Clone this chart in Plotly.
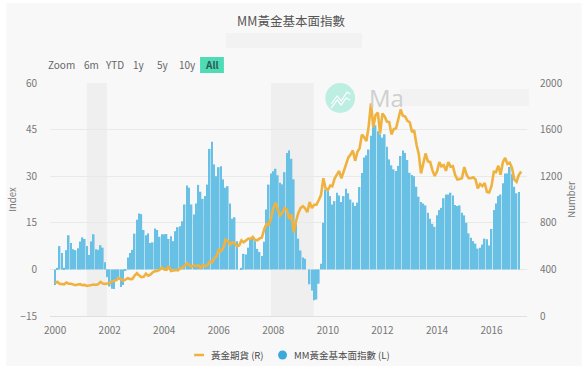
import pandas as pd
import plotly.graph_objects as go

W, H = 587, 377
L, R, T, B = 48, 528, 83, 316

index_values = [
    -5, .5, 7.5, 5.3, .5, 6.2, 11, 8.5, 6.5, 6.2, 6.8, 9,
    10.3, 9.8, 7.5, 4.6, 9, 11.3, 6.5, 6.3, 7.8, 7, 2.3, -2.5,
    -5.5, -6.2, -6.3, -3.5, -2.5, -5.7, -5, -0.5, 3.8, 5.3, 6.3, 11.5,
    16, 18, 17.8, 12.7, 11, 11.6, 8.5, 8.7, 13.2, 12.7, 10.5, 11.3,
    11.3, 11.4, 9.8, 10.7, 9.1, 12.3, 13.6, 13.9, 15.5, 20.9, 27, 26.3,
    20.9, 17.7, 21.2, 27.2, 25, 22.7, 23.6, 27.3, 38.8, 41.1, 33.8, 30,
    32.9, 33.2, 29, 26.3, 26.8, 21.2, 16.3, 16.8, 9.1, 0, 0.5, 5,
    4.8, 7, 9.6, 9.9, 9.1, 6.6, 5.6, 4.3, 8.9, 19.3, 27.3, 30.9,
    31.6, 32.4, 30.3, 27.9, 27.4, 31.3, 37.5, 38.3, 35.6, 29, 14.5, 9.9,
    6.1, 3.8, 3.4, 0, -4.8, -6.8, -9.9, -9.7, -4.6, 1.8, 15, 25.7,
    25.2, 23.6, 20.9, 22, 24.7, 23.8, 21.7, 23.6, 26, 24.5, 22.5, 21.5,
    20.4, 21.5, 26.5, 31, 36, 36.7, 38.6, 43, 45.8, 46.4, 44.5, 43.5,
    42.4, 43.5, 39.5, 35.4, 33.5, 32.2, 31.7, 33.3, 36.5, 38.3, 37.5, 35.2,
    31.1, 30.4, 30, 26.6, 23.4, 21.7, 21.2, 20.6, 18.2, 16.3, 14.7, 13.7,
    17.4, 19.1, 19.8, 22.9, 24.1, 24.1, 24.7, 23.8, 20.7, 20.4, 20.6, 18.2,
    17.4, 15, 11.6, 10.2, 9.1, 8.3, 6.7, 7, 8, 9.9, 9.7, 7.7,
    13, 19.1, 21.2, 23.6, 24.1, 27.7, 30.9, 30.9, 33, 30.6, 26.6, 24.5,
    24.9,
]
gold_values = [
    283, 293, 277, 275, 272, 288, 277, 277, 273, 264, 270, 273,
    265, 267, 258, 264, 266, 270, 266, 273, 293, 279, 275, 277,
    283, 296, 301, 308, 326, 318, 305, 312, 324, 317, 318, 347,
    368, 347, 334, 336, 364, 346, 354, 375, 385, 386, 397, 416,
    399, 396, 427, 387, 394, 395, 391, 408, 415, 429, 453, 438,
    422, 434, 428, 435, 414, 437, 430, 433, 467, 459, 495, 513,
    569, 557, 582, 654, 643, 613, 632, 624, 599, 606, 649, 632,
    650, 665, 662, 679, 654, 650, 666, 673, 743, 790, 783, 838,
    924, 972, 916, 864, 886, 926, 914, 833, 873, 719, 816, 884,
    928, 942, 924, 891, 979, 927, 955, 955, 996, 1040, 1182, 1097,
    1081, 1119, 1113, 1180, 1213, 1244, 1181, 1248, 1307, 1359, 1386, 1421,
    1332, 1409, 1439, 1556, 1536, 1502, 1628, 1825, 1620, 1725, 1746, 1566,
    1739, 1711, 1669, 1664, 1559, 1604, 1610, 1691, 1773, 1719, 1712, 1675,
    1663, 1578, 1595, 1472, 1393, 1224, 1312, 1395, 1327, 1323, 1250, 1202,
    1240, 1321, 1284, 1295, 1246, 1322, 1282, 1287, 1210, 1172, 1175, 1184,
    1279, 1213, 1183, 1183, 1190, 1172, 1095, 1132, 1115, 1142, 1065, 1060,
    1116, 1238, 1234, 1290, 1213, 1320, 1357, 1306, 1316, 1272, 1171, 1152,
    1211, 1240,
]
recessions = [("2001-03-01", "2001-11-25"), ("2007-12-01", "2009-06-25")]
range_buttons = ["Zoom", "6m", "YTD", "1y", "5y", "10y", "All"]
title_text = "MM黃金基本面指數"
gold_name = "黃金期貨 (R)"
index_name = "MM黃金基本面指數 (L)"

FONT = "Noto Sans CJK TC"
GOLD = "#f0b23f"
index_dates = pd.date_range("2000-01-01", periods=len(index_values), freq="MS")
gold_dates = pd.date_range("2000-01-01", periods=len(gold_values), freq="MS")

def px(x):
    return (x - L) / (R - L)
def py(y):
    return (B - y) / (B - T)

fig = go.Figure()
fig.add_trace(go.Bar(x=index_dates, y=index_values, name=index_name,
                     marker=dict(color="#69c0e5", line=dict(width=0)), yaxis="y"))
fig.add_trace(go.Scatter(x=gold_dates, y=gold_values, name=gold_name, mode="lines",
                         line=dict(color=GOLD, width=2.6), yaxis="y2"))

def paper_rect(x0, x1, y0, y1, color, layer="below", kind="rect"):
    return dict(type=kind, xref="paper", yref="paper", x0=px(x0), x1=px(x1), y0=py(y1), y1=py(y0),
                fillcolor=color, line_width=0, layer=layer)

shapes = [
    paper_rect(4, 583, 3, 366, "#f8f8f8"),
    paper_rect(225, 362, 33, 48, "#f2f2f2"),
    paper_rect(199, 223, 57, 73, "#4edcb6"),
]
for a, b in recessions:
    shapes.append(dict(type="rect", xref="x", yref="paper", x0=a, x1=b, y0=0, y1=1,
                       fillcolor="#efefef", line_width=0, layer="below"))
# watermark logo and masked box
shapes.append(paper_rect(325, 355, 83, 113, "#bdeee2", kind="circle"))
for p in ([(331, 104), (337, 96), (341, 101), (347, 92), (350, 94)],
          [(331, 108), (337, 100), (341, 105), (346, 98), (350, 100)]):
    d = "M" + " L".join(f"{px(x):.4f},{py(y):.4f}" for x, y in p)
    shapes.append(dict(type="path", xref="paper", yref="paper", path=d,
                       line=dict(color="#ffffff", width=1.2), layer="below"))
shapes.append(paper_rect(400, 530, 89, 106, "#f2f2f2", layer="below"))
# legend keys
shapes.append(dict(type="line", xref="paper", yref="paper", x0=px(193), x1=px(203), y0=py(355), y1=py(355),
                   line=dict(color=GOLD, width=2.5)))
shapes.append(paper_rect(277.5, 286.5, 350.5, 359.5, "#3aa9dc", kind="circle"))

button_x = [60, 90, 113, 138, 162, 186, 211]
ann = []
for t, x in zip(range_buttons, button_x):
    ann.append(dict(text=f"<b>{t}</b>" if t == "All" else t, xref="paper", yref="paper",
                    x=px(x), y=py(64.5), xanchor="center", yanchor="middle", showarrow=False,
                    font=dict(size=10, color="#2f5a50" if t == "All" else "#666666", family=FONT)))
ann.append(dict(text="Ma", xref="paper", yref="paper", x=px(367), y=py(97), xanchor="left", yanchor="middle",
                showarrow=False, font=dict(size=24, color="#cfcfcf", family="Open Sans")))
for t, x in ((gold_name, 208), (index_name, 292)):
    ann.append(dict(text=t, xref="paper", yref="paper", x=px(x), y=py(355), xanchor="left", yanchor="middle",
                    showarrow=False, font=dict(size=9.5, color="#4a4a4a", family=FONT)))

fig.update_layout(
    width=W, height=H, autosize=False, showlegend=False,
    margin=dict(l=L, r=W - R, t=T, b=H - B),
    paper_bgcolor="#ffffff", plot_bgcolor="rgba(0,0,0,0)",
    font=dict(family=FONT, color="#777777", size=10),
    title=dict(text=title_text, x=291 / W, xanchor="center", y=1 - 22 / H, yanchor="middle",
               font=dict(size=12.5, color="#555555", family=FONT)),
    bargap=0.22, shapes=shapes, annotations=ann,
    xaxis=dict(type="date", range=["1999-10-25", "2017-04-20"], tick0="2000-01-01", dtick="M24",
               tickformat="%Y", showgrid=False, showline=True, linecolor="#e0e0e0", linewidth=1,
               ticks="", ticklabelstandoff=5, tickfont=dict(size=10, color="#777777")),
    yaxis=dict(range=[-15, 60], tick0=-15, dtick=15, gridcolor="#e9e9e9", gridwidth=1, zeroline=True,
               zerolinecolor="#e9e9e9", zerolinewidth=1, showline=False, ticks="", ticklabelstandoff=12,
               tickfont=dict(size=10, color="#777777"),
               title=dict(text="Index", standoff=2, font=dict(size=9.5, color="#777777"))),
    yaxis2=dict(range=[0, 2000], tick0=0, dtick=400, overlaying="y", side="right", showgrid=False,
                zeroline=False, showline=False, ticks="", ticklabelstandoff=12,
                tickfont=dict(size=10, color="#777777"),
                title=dict(text="Number", standoff=6, font=dict(size=9.5, color="#777777"))),
)
fig.write_html("out.html", config={"displayModeBar": False},
               post_script="document.body.style.margin='0';document.documentElement.style.overflow='hidden';")
